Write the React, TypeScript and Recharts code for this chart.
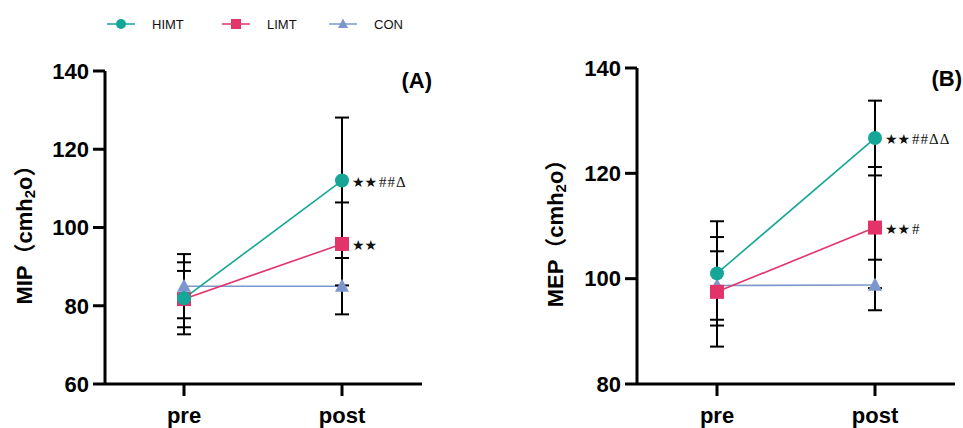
import React from 'react';
import { LineChart, Line, XAxis, YAxis, ErrorBar, LabelList, Legend, Customized } from 'recharts';

// ---------- data ----------
const categories = ['pre', 'post'];

// Panel A: MIP
const himtMIP = [81.9, 112.0];
const himtMIPErr = [9.2, 16.1];
const himtMIPSig = ['', '★★##Δ'];
const limtMIP = [81.7, 95.8];
const limtMIPErr = [7.2, 10.6];
const limtMIPSig = ['', '★★'];
const conMIP = [85.0, 85.0];
const conMIPErr = [8.2, 7.2];
const conMIPSig = ['', ''];

// Panel B: MEP
const himtMEP = [101.0, 126.7];
const himtMEPErr = [9.9, 7.1];
const himtMEPSig = ['', '★★##ΔΔ'];
const limtMEP = [97.5, 109.7];
const limtMEPErr = [10.4, 11.5];
const limtMEPSig = ['', '★★#'];
const conMEP = [98.7, 98.8];
const conMEPErr = [6.5, 4.8];
const conMEPSig = ['', ''];

const mipTicks = [60, 80, 100, 120, 140];
const mepTicks = [80, 100, 120, 140];

const seriesNames = ['HIMT', 'LIMT', 'CON'];

// ---------- styles ----------
const COLORS: Record<string, string> = { HIMT: '#15a697', LIMT: '#e2336b', CON: '#7d97cc' };
const SHAPES: Record<string, string> = { HIMT: 'circle', LIMT: 'square', CON: 'triangle' };
const FONT = 'Liberation Sans, Arial, Helvetica, sans-serif';

const buildData = (
  h: number[], he: number[], hs: string[],
  l: number[], le: number[], ls: string[],
  c: number[], ce: number[], cs: string[]
) =>
  categories.map((t, i) => ({
    time: t,
    HIMT: h[i], HIMTErr: he[i], HIMTSig: hs[i],
    LIMT: l[i], LIMTErr: le[i], LIMTSig: ls[i],
    CON: c[i], CONErr: ce[i], CONSig: cs[i],
  }));

const mipData = buildData(himtMIP, himtMIPErr, himtMIPSig, limtMIP, limtMIPErr, limtMIPSig, conMIP, conMIPErr, conMIPSig);
const mepData = buildData(himtMEP, himtMEPErr, himtMEPSig, limtMEP, limtMEPErr, limtMEPSig, conMEP, conMEPErr, conMEPSig);

function Marker({ shape, cx, cy, color, size }: any) {
  if (cx == null || cy == null) return null;
  if (shape === 'circle') return <circle cx={cx} cy={cy} r={size / 2} fill={color} />;
  if (shape === 'square')
    return <rect x={cx - size / 2} y={cy - size / 2} width={size} height={size} fill={color} />;
  const hh = size * 0.9;
  return (
    <polygon
      points={`${cx},${cy - hh * 0.6} ${cx - size / 2},${cy + hh * 0.45} ${cx + size / 2},${cy + hh * 0.45}`}
      fill={color}
    />
  );
}

const renderSig = (props: any) => {
  const { x, y, value } = props;
  if (!value) return null;
  const s = String(value);
  const stars = s.replace(/[^★]/g, '');
  const rest = s.replace(/★/g, '');
  return (
    <text x={Number(x) + 10} y={Number(y) + 6} fill="#111">
      <tspan fontFamily="DejaVu Sans" fontSize={14}>{stars}</tspan>
      {rest ? (
        <tspan fontFamily="Liberation Serif, serif" fontSize={15} dx={2} letterSpacing={1}>
          {rest}
        </tspan>
      ) : null}
    </text>
  );
};

const yLabel = (name: string, cx: number) => (props: any) => {
  const vb = props && props.viewBox ? props.viewBox : null;
  const cy = vb && vb.height ? vb.y + vb.height / 2 + 2 : 229;
  return (
    <text
      transform={`translate(${cx},${cy}) rotate(-90)`}
      textAnchor="middle"
      dominantBaseline="central"
      fontFamily={`${FONT}, Noto Sans CJK SC`}
      fontWeight="bold"
      fontSize={22}
      fill="#000"
    >
      {name}
      <tspan>（cmh</tspan>
      <tspan fontSize={15} dy={5}>2</tspan>
      <tspan dy={-5}>o）</tspan>
    </text>
  );
};

const legendX = [107, 222, 329];
const legendTextX = [152, 267, 374];

const renderLegend = () => (
  <svg width={480} height={48}>
    {seriesNames.map((n, i) => (
      <g key={n}>
        <line x1={legendX[i]} x2={legendX[i] + 28} y1={24} y2={24} stroke={COLORS[n]} strokeWidth={1.5} />
        <Marker shape={SHAPES[n]} cx={legendX[i] + 14} cy={24} color={COLORS[n]} size={10} />
        <text x={legendTextX[i]} y={28.5} fontFamily={FONT} fontSize={13} fill="#111">
          {n}
        </text>
      </g>
    ))}
  </svg>
);

const axisProps = {
  axisLine: { stroke: '#000', strokeWidth: 3 },
  tickLine: { stroke: '#000', strokeWidth: 3 },
  tickSize: 12,
  tick: { fill: '#000', fontSize: 22, fontWeight: 'bold', fontFamily: FONT },
};

function seriesLines() {
  // drawn CON first, HIMT last (on top)
  return ['CON', 'LIMT', 'HIMT'].map((n) => (
    <Line
      key={n}
      name={n}
      dataKey={n}
      stroke={COLORS[n]}
      strokeWidth={1.6}
      isAnimationActive={false}
      activeDot={false}
      dot={(p: any) => (
        <Marker key={`dot-${n}-${p.index}`} shape={SHAPES[n]} cx={p.cx} cy={p.cy} color={COLORS[n]} size={14} />
      )}
    >
      <ErrorBar dataKey={`${n}Err`} width={7} stroke="#000" strokeWidth={2} direction="y" isAnimationActive={false} />
      <LabelList dataKey={`${n}Sig`} content={renderSig} />
    </Line>
  ));
}

export default function App() {
  return (
    <div style={{ position: 'absolute', left: 0, top: 0, width: 963, height: 428, background: '#fff' }}>
      <div style={{ position: 'absolute', left: 0, top: 0 }}>
        <LineChart width={480} height={428} data={mipData} margin={{ top: 71, right: 58, bottom: 0, left: 0 }}>
          <XAxis dataKey="time" height={44} padding={{ left: 79, right: 80 }} tickMargin={11} {...axisProps} />
          <YAxis
            domain={[60, 140]}
            ticks={mipTicks}
            width={105}
            tickMargin={4}
            interval={0}
            label={yLabel('MIP', 24)}
            {...axisProps}
          />
          <Legend
            content={renderLegend}
            layout="horizontal"
            verticalAlign="middle"
            align="center"
            wrapperStyle={{ position: 'absolute', left: 0, top: 0, width: 480, height: 48 }}
          />
          {seriesLines()}
          <Customized
            component={() => (
              <text x={432} y={88} textAnchor="end" fontFamily={FONT} fontWeight="bold" fontSize={22} fill="#000">
                (A)
              </text>
            )}
          />
        </LineChart>
      </div>
      <div style={{ position: 'absolute', left: 480, top: 0 }}>
        <LineChart width={483} height={428} data={mepData} margin={{ top: 68, right: 8, bottom: 0, left: 0 }}>
          <XAxis dataKey="time" height={44} padding={{ left: 80, right: 80 }} tickMargin={11} {...axisProps} />
          <YAxis
            domain={[80, 140]}
            ticks={mepTicks}
            width={157}
            tickMargin={4}
            interval={0}
            label={yLabel('MEP', 75)}
            {...axisProps}
          />
          {seriesLines()}
          <Customized
            component={() => (
              <text x={482} y={86} textAnchor="end" fontFamily={FONT} fontWeight="bold" fontSize={22} fill="#000">
                (B)
              </text>
            )}
          />
        </LineChart>
      </div>
    </div>
  );
}
